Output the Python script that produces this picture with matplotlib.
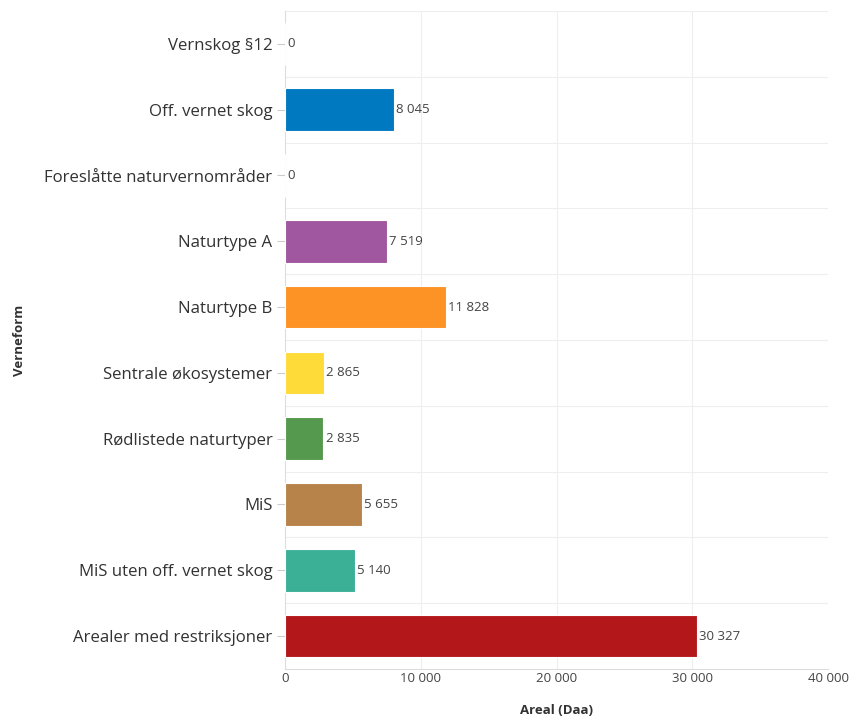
import matplotlib
matplotlib.use("Agg")
import matplotlib.pyplot as plt
from matplotlib.ticker import FuncFormatter

categories = ["Vernskog §12", "Off. vernet skog", "Foreslåtte naturvernområder",
              "Naturtype A", "Naturtype B", "Sentrale økosystemer",
              "Rødlistede naturtyper", "MiS", "MiS uten off. vernet skog",
              "Arealer med restriksjoner"]
values = [0, 8045, 0, 7519, 11828, 2865, 2835, 5655, 5140, 30327]
colors = ["#0079c1", "#0079c1", "#0079c1", "#a0579f", "#fd9325", "#ffdb3a",
          "#55994e", "#b8834b", "#3caf97", "#b3171a"]
xticks = [0, 10000, 20000, 30000, 40000]

plt.rcParams['font.family'] = ['Open Sans', 'DejaVu Sans']

fig = plt.figure(figsize=(8.53, 7.18), dpi=100)
W, H = 853, 718
AW = 828 - 285
ax = fig.add_axes([285 / W, 1 - 669 / H, AW / W, (669 - 11) / H])

n = len(categories)
ypos = list(range(n))
ax.barh(ypos, values, height=0.65, color=colors, edgecolor="white", linewidth=0.8, zorder=3)
for y, v in zip(ypos, values):
    ax.text(v + 150, y, f"{v:,}".replace(",", " "), va="center", ha="left",
            fontsize=9.5, color="#444444", zorder=4)

ax.set_ylim(n - 0.5, -0.5)
ax.set_xlim(0, 40000)
ax.set_yticks(ypos)
ax.set_yticklabels(categories, fontsize=12.1, color="#323232")
ax.set_xticks(xticks)
ax.xaxis.set_major_formatter(FuncFormatter(lambda x, p: f"{int(x):,}".replace(",", " ")))
ax.tick_params(axis="x", labelsize=9.5, labelcolor="#444444", length=0, pad=2)
ax.tick_params(axis="y", length=6, color="#cccccc", width=0.8, pad=3)

ax.set_yticks([i - 0.5 for i in range(n + 1)], minor=True)
ax.tick_params(axis="y", which="minor", length=0)
ax.grid(axis="y", which="minor", color="#eeeeee", linewidth=0.8, zorder=0)
ax.grid(axis="x", which="major", color="#eeeeee", linewidth=0.8, zorder=0)
ax.grid(axis="y", which="major", visible=False)

for s in ["top", "right"]:
    ax.spines[s].set_visible(False)
ax.spines["left"].set_color("#dddddd")
ax.spines["bottom"].set_color("#dddddd")

ax.set_xlabel("Areal (Daa)", fontsize=9.5, fontweight="bold", color="#323232", labelpad=14)
ax.set_ylabel("Verneform", fontsize=9.5, fontweight="bold", color="#323232")
ax.yaxis.set_label_coords((26 - 285) / AW, 0.5)

fig.savefig("out.png", dpi=100, facecolor="white")
